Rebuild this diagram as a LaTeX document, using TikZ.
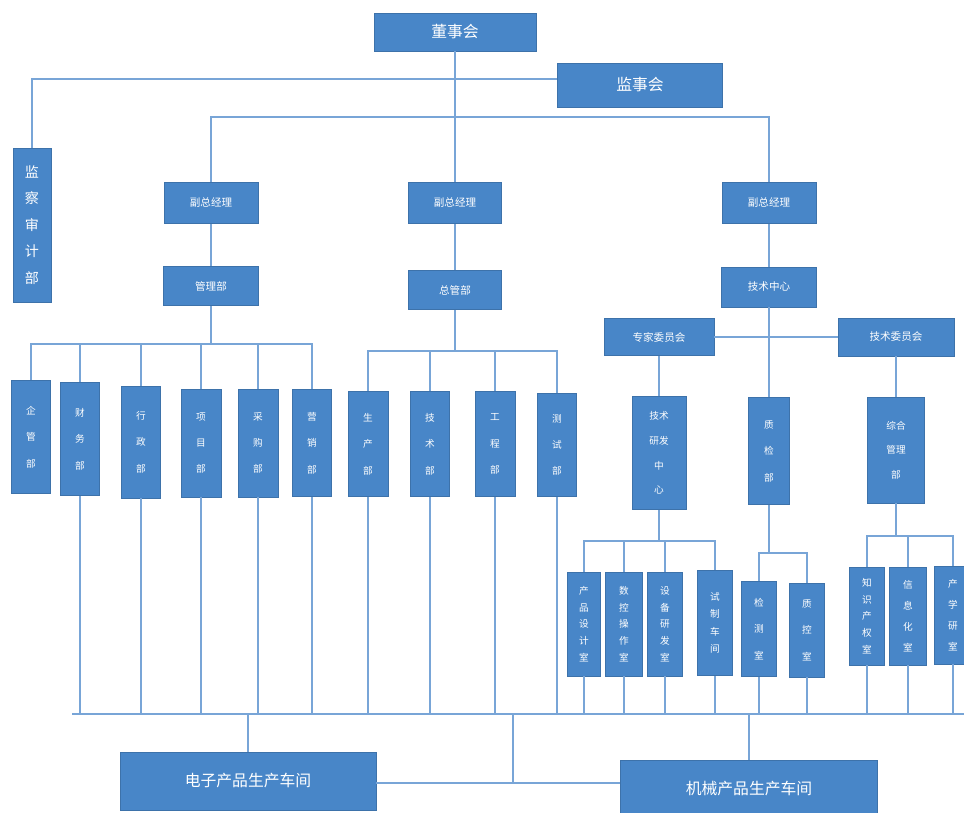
\documentclass[tikz,border=0pt]{standalone}
\usepackage{fontspec}
\newfontfamily\cjk{Noto Sans CJK SC}
\usetikzlibrary{calc}

\definecolor{boxblue}{RGB}{72,134,200}
\definecolor{lineblue}{RGB}{120,165,215}

\tikzset{
  box/.style={draw=boxblue!85!black, line width=0.4pt, fill=boxblue, text=white,
    inner sep=0pt, font=\cjk\fontsize{6}{7}\selectfont},
  bigbox/.style={box, font=\cjk\fontsize{9}{10}\selectfont},
  vbox/.style={box, align=center, font=\cjk\fontsize{5.5}{#1}\selectfont},
  conn/.style={draw=lineblue, line width=0.8pt}
}

\begin{document}
\begin{tikzpicture}[x=0.02cm, y=-0.02cm]
  \clip (0,0) rectangle (964,813);
  \fill[white] (0,0) rectangle (964,813);

  % top level
  \node[bigbox, minimum width=3.24cm, minimum height=0.76cm] (dsh) at (455,32) {董事会};
  \node[bigbox, minimum width=3.3cm, minimum height=0.88cm] (jsh) at (640,85) {监事会};
  \node[box, align=center, minimum width=0.76cm, minimum height=3.08cm,
        font=\cjk\fontsize{8}{15}\selectfont] (sj) at (32,225) {监\\察\\审\\计\\部};

  % vice general managers
  \node[box, minimum width=1.88cm, minimum height=0.82cm] (fz1) at (211,203) {副总经理};
  \node[box, minimum width=1.86cm, minimum height=0.82cm] (fz2) at (455,203) {副总经理};
  \node[box, minimum width=1.88cm, minimum height=0.82cm] (fz3) at (769,203) {副总经理};

  \node[box, minimum width=1.9cm, minimum height=0.78cm] (glb) at (211,286) {管理部};
  \node[box, minimum width=1.86cm, minimum height=0.78cm] (zgb) at (455,290) {总管部};
  \node[box, minimum width=1.9cm, minimum height=0.8cm] (jszx) at (769,287) {技术中心};

  \node[box, minimum width=2.2cm, minimum height=0.74cm] (zj) at (659,337) {专家委员会};
  \node[box, minimum width=2.32cm, minimum height=0.76cm] (jw) at (896,337) {技术委员会};

  % departments under 管理部
  \node[vbox=15, minimum width=0.78cm, minimum height=2.26cm] (a1) at (31,437) {企\\管\\部};
  \node[vbox=15, minimum width=0.78cm, minimum height=2.26cm] (a2) at (80,439) {财\\务\\部};
  \node[vbox=15, minimum width=0.78cm, minimum height=2.24cm] (a3) at (141,442) {行\\政\\部};
  \node[vbox=15, minimum width=0.8cm, minimum height=2.16cm] (a4) at (201,443) {项\\目\\部};
  \node[vbox=15, minimum width=0.8cm, minimum height=2.16cm] (a5) at (258,443) {采\\购\\部};
  \node[vbox=15, minimum width=0.78cm, minimum height=2.14cm] (a6) at (312,443) {营\\销\\部};

  % departments under 总管部
  \node[vbox=15, minimum width=0.8cm, minimum height=2.1cm] (b1) at (368,444) {生\\产\\部};
  \node[vbox=15, minimum width=0.78cm, minimum height=2.1cm] (b2) at (430,444) {技\\术\\部};
  \node[vbox=15, minimum width=0.8cm, minimum height=2.1cm] (b3) at (495,444) {工\\程\\部};
  \node[vbox=15, minimum width=0.78cm, minimum height=2.06cm] (b4) at (557,445) {测\\试\\部};

  % technical centre
  \node[vbox=14, minimum width=1.08cm, minimum height=2.26cm] (yf) at (659,453) {技术\\研发\\中\\心};
  \node[vbox=15, minimum width=0.82cm, minimum height=2.14cm] (zjb) at (769,451) {质\\检\\部};
  \node[vbox=14, minimum width=1.14cm, minimum height=2.12cm] (zh) at (896,450) {综合\\管理\\部};

  \node[vbox=9.5, minimum width=0.66cm, minimum height=2.08cm] (c1) at (584,624) {产\\品\\设\\计\\室};
  \node[vbox=9.5, minimum width=0.74cm, minimum height=2.08cm] (c2) at (624,624) {数\\控\\操\\作\\室};
  \node[vbox=9.5, minimum width=0.7cm, minimum height=2.08cm] (c3) at (665,624) {设\\备\\研\\发\\室};
  \node[vbox=10, minimum width=0.7cm, minimum height=2.1cm] (c4) at (715,623) {试\\制\\车\\间};
  \node[vbox=15, minimum width=0.7cm, minimum height=1.9cm] (d1) at (759,629) {检\\测\\室};
  \node[vbox=15, minimum width=0.7cm, minimum height=1.88cm] (d2) at (807,630) {质\\控\\室};
  \node[vbox=9.5, minimum width=0.7cm, minimum height=1.96cm] (e1) at (867,616) {知\\识\\产\\权\\室};
  \node[vbox=12, minimum width=0.74cm, minimum height=1.96cm] (e2) at (908,616) {信\\息\\化\\室};
  \node[vbox=12, minimum width=0.76cm, minimum height=1.96cm] (e3) at (953,615) {产\\学\\研\\室};

  % workshops
  \node[bigbox, minimum width=5.12cm, minimum height=1.16cm] (ep) at (248,781) {电子产品生产车间};
  \node[bigbox, minimum width=5.14cm, minimum height=1.16cm] (jx) at (749,789) {机械产品生产车间};

  % connectors
  \coordinate (j0) at (455,79);
  \coordinate (j1) at (455,117);
  \coordinate (ja) at (211,344);
  \coordinate (jb) at (455,351);
  \coordinate (jc) at (659,541);
  \coordinate (jd) at (769,553);
  \coordinate (je) at (896,536);
  \coordinate (bus) at (72,714);
  \coordinate (busR) at (964,714);
  \coordinate (mid) at (513,783);

  \draw[conn] (dsh) -- (j1);
  \draw[conn] (sj) |- (jsh.west |- j0);
  \foreach \n in {fz1,fz2,fz3} \draw[conn] (j1) -| (\n);
  \draw[conn] (fz1) -- (glb);
  \draw[conn] (fz2) -- (zgb);
  \draw[conn] (fz3) -- (jszx);
  \draw[conn] (jszx) -- (zjb);
  \draw[conn] (zj) -- (jw);
  \draw[conn] (zj) -- (yf);
  \draw[conn] (jw) -- (zh);

  \draw[conn] (glb) -- (ja);
  \foreach \n in {a1,a2,a3,a4,a5,a6} \draw[conn] (ja) -| (\n);
  \draw[conn] (zgb) -- (jb);
  \foreach \n in {b1,b2,b3,b4} \draw[conn] (jb) -| (\n);
  \draw[conn] (yf) -- (jc);
  \foreach \n in {c1,c2,c3,c4} \draw[conn] (jc) -| (\n);
  \draw[conn] (zjb) -- (jd);
  \foreach \n in {d1,d2} \draw[conn] (jd) -| (\n);
  \draw[conn] (zh) -- (je);
  \foreach \n in {e1,e2,e3} \draw[conn] (je) -| (\n);

  % bottom bus
  \draw[conn] (bus) -- (busR);
  \foreach \n in {a2,a3,a4,a5,a6,b1,b2,b3,b4,c1,c2,c3,c4,d1,d2,e1,e2,e3}
    \draw[conn] (\n) -- (\n |- bus);
  \draw[conn] (ep |- bus) -- (ep);
  \draw[conn] (jx |- bus) -- (jx);
  \draw[conn] (mid |- bus) -- (mid);
  \draw[conn] (ep.east |- mid) -- (jx.west |- mid);
\end{tikzpicture}
\end{document}
